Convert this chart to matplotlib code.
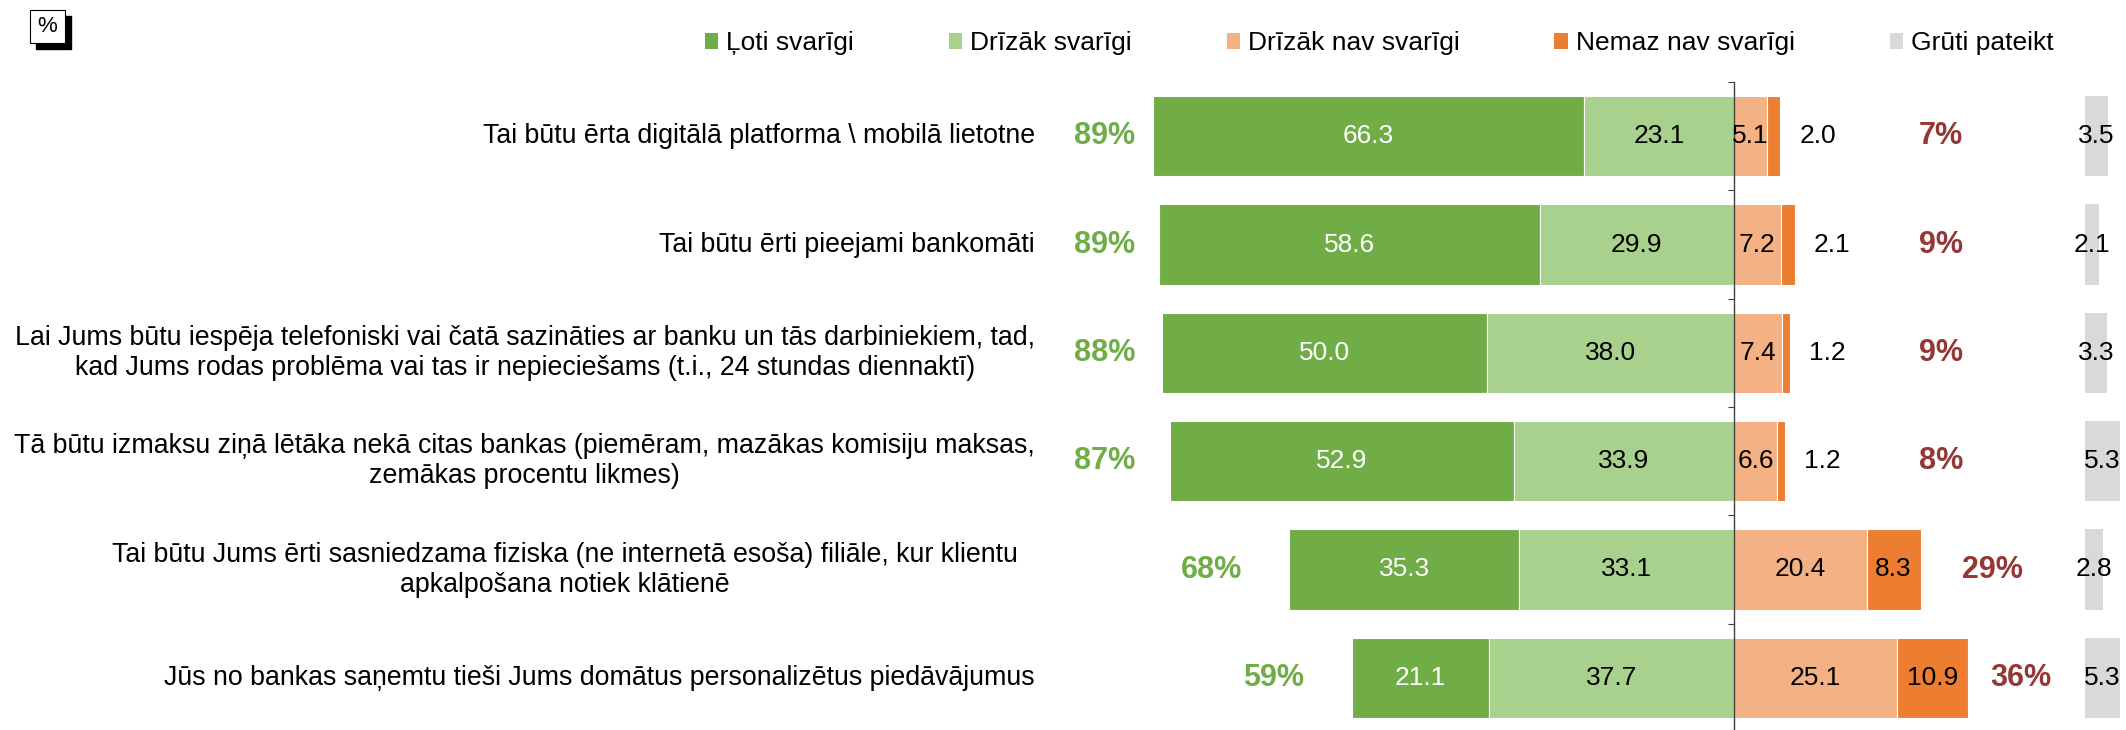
import numpy as np
import matplotlib
matplotlib.use('Agg')
import matplotlib.pyplot as plt
from matplotlib.patches import Rectangle, Patch
from matplotlib.transforms import blended_transform_factory

plt.rcParams['font.family'] = ['Liberation Sans', 'DejaVu Sans']

# dati
kategorijas = [
    "Tai būtu ērta digitālā platforma \\ mobilā lietotne",
    "Tai būtu ērti pieejami bankomāti",
    "Lai Jums būtu iespēja telefoniski vai čatā sazināties ar banku un tās darbiniekiem, tad,\n"
    "kad Jums rodas problēma vai tas ir nepieciešams (t.i., 24 stundas diennaktī)",
    "Tā būtu izmaksu ziņā lētāka nekā citas bankas (piemēram, mazākas komisiju maksas,\n"
    "zemākas procentu likmes)",
    "Tai būtu Jums ērti sasniedzama fiziska (ne internetā esoša) filiāle, kur klientu\n"
    "apkalpošana notiek klātienē",
    "Jūs no bankas saņemtu tieši Jums domātus personalizētus piedāvājumus",
]
loti = [66.3, 58.6, 50.0, 52.9, 35.3, 21.1]
drizak = [23.1, 29.9, 38.0, 33.9, 33.1, 37.7]
drizak_nav = [5.1, 7.2, 7.4, 6.6, 20.4, 25.1]
nemaz = [2.0, 2.1, 1.2, 1.2, 8.3, 10.9]
gruti = [3.5, 2.1, 3.3, 5.3, 2.8, 5.3]
svarigi_kopa = ['89%', '89%', '88%', '87%', '68%', '59%']
nesvarigi_kopa = ['7%', '9%', '9%', '8%', '29%', '36%']
serijas = ['Ļoti svarīgi', 'Drīzāk svarīgi', 'Drīzāk nav svarīgi', 'Nemaz nav svarīgi', 'Grūti pateikt']

krasas = ['#70AD47', '#A9D18E', '#F4B183', '#ED7D31', '#D9D9D9']
zala = '#70AD47'
sarkana = '#953735'
fs = 19

fig = plt.figure(figsize=(21.26, 7.30), dpi=100)
ax = fig.add_axes([1060 / 2126, -2 / 730, 1 - 1060 / 2126, 650 / 730])

y = np.arange(len(kategorijas))
h = 0.74
loti = np.array(loti)
drizak = np.array(drizak)
drizak_nav = np.array(drizak_nav)
nemaz = np.array(nemaz)
gruti = np.array(gruti)
gruti_x = 54.0

ax.barh(y, -loti, left=-drizak, height=h, color=krasas[0], edgecolor='white', linewidth=0.8)
ax.barh(y, -drizak, height=h, color=krasas[1], edgecolor='white', linewidth=0.8)
ax.barh(y, drizak_nav, height=h, color=krasas[2], edgecolor='white', linewidth=0.8)
ax.barh(y, nemaz, left=drizak_nav, height=h, color=krasas[3], edgecolor='white', linewidth=0.8)
ax.barh(y, gruti, left=gruti_x, height=h, color=krasas[4], linewidth=0)

for i in range(len(y)):
    ax.text(-drizak[i] - loti[i] / 2, y[i], f"{loti[i]:.1f}", ha='center', va='center', color='white', fontsize=fs)
    ax.text(-drizak[i] / 2, y[i], f"{drizak[i]:.1f}", ha='center', va='center', color='black', fontsize=fs)
    ax.text(drizak_nav[i] / 2, y[i], f"{drizak_nav[i]:.1f}", ha='center', va='center', color='black', fontsize=fs)
    beigas = drizak_nav[i] + nemaz[i]
    if nemaz[i] > 5:
        ax.text(drizak_nav[i] + nemaz[i] / 2, y[i], f"{nemaz[i]:.1f}", ha='center', va='center', fontsize=fs)
    else:
        ax.text(beigas + 3.0, y[i], f"{nemaz[i]:.1f}", ha='left', va='center', fontsize=fs)
    ax.text(gruti_x + gruti[i] / 2, y[i], f"{gruti[i]:.1f}", ha='center', va='center', fontsize=fs)
    # kopsummas
    tot_poz = loti[i] + drizak[i]
    tot_neg = beigas
    ax.text(-min(tot_poz + 12, 96.8), y[i], svarigi_kopa[i], ha='center', va='center',
            color=zala, fontsize=22, fontweight='bold')
    ax.text(max(0.6 * tot_neg + 22.5, 31.8), y[i], nesvarigi_kopa[i], ha='center', va='center',
            color=sarkana, fontsize=22, fontweight='bold')

# kategoriju teksti (5. rinda Excel tekstlodziņā ir nedaudz pa kreisi)
trans = blended_transform_factory(fig.transFigure, ax.transData)
for i, k in enumerate(kategorijas):
    xr = 1018 if i == 4 else 1035
    ax.text(xr / 2126, y[i], k, transform=trans, ha='right', va='center',
            multialignment='center', fontsize=19.25, clip_on=False)

ax.set_xlim(-103.7, 60.3)
ax.set_ylim(5.5, -0.5)
for s in ['top', 'right', 'bottom']:
    ax.spines[s].set_visible(False)
ax.spines['left'].set_position(('data', 0))
ax.spines['left'].set_color('#404040')
ax.spines['left'].set_linewidth(1.0)
ax.set_yticks(np.arange(-0.5, 5.6, 1.0))
ax.set_yticklabels([])
ax.tick_params(axis='y', direction='out', length=4, color='#404040')
ax.set_xticks([])
ax.patch.set_alpha(0)

# leģenda
rokturi = [Patch(facecolor=c, edgecolor='none') for c in krasas]
fig.legend(rokturi, serijas, loc='center left', bbox_to_anchor=(705 / 2126, 1 - 43 / 730),
           ncol=5, frameon=False, fontsize=fs, borderpad=0, borderaxespad=0,
           handlelength=0.5, handleheight=0.55, handletextpad=0.3, columnspacing=3.6)

# "%" lodziņš
fig.patches.append(Rectangle((36 / 2126, 1 - 49 / 730), 35 / 2126, 33 / 730,
                             transform=fig.transFigure, facecolor='black', edgecolor='black'))
fig.patches.append(Rectangle((30 / 2126, 1 - 43 / 730), 35 / 2126, 33 / 730,
                             transform=fig.transFigure, facecolor='white', edgecolor='black', linewidth=0.8))
fig.text(47.5 / 2126, 1 - 26.5 / 730, '%', ha='center', va='center', fontsize=16)

fig.savefig('out.png', dpi=100)
